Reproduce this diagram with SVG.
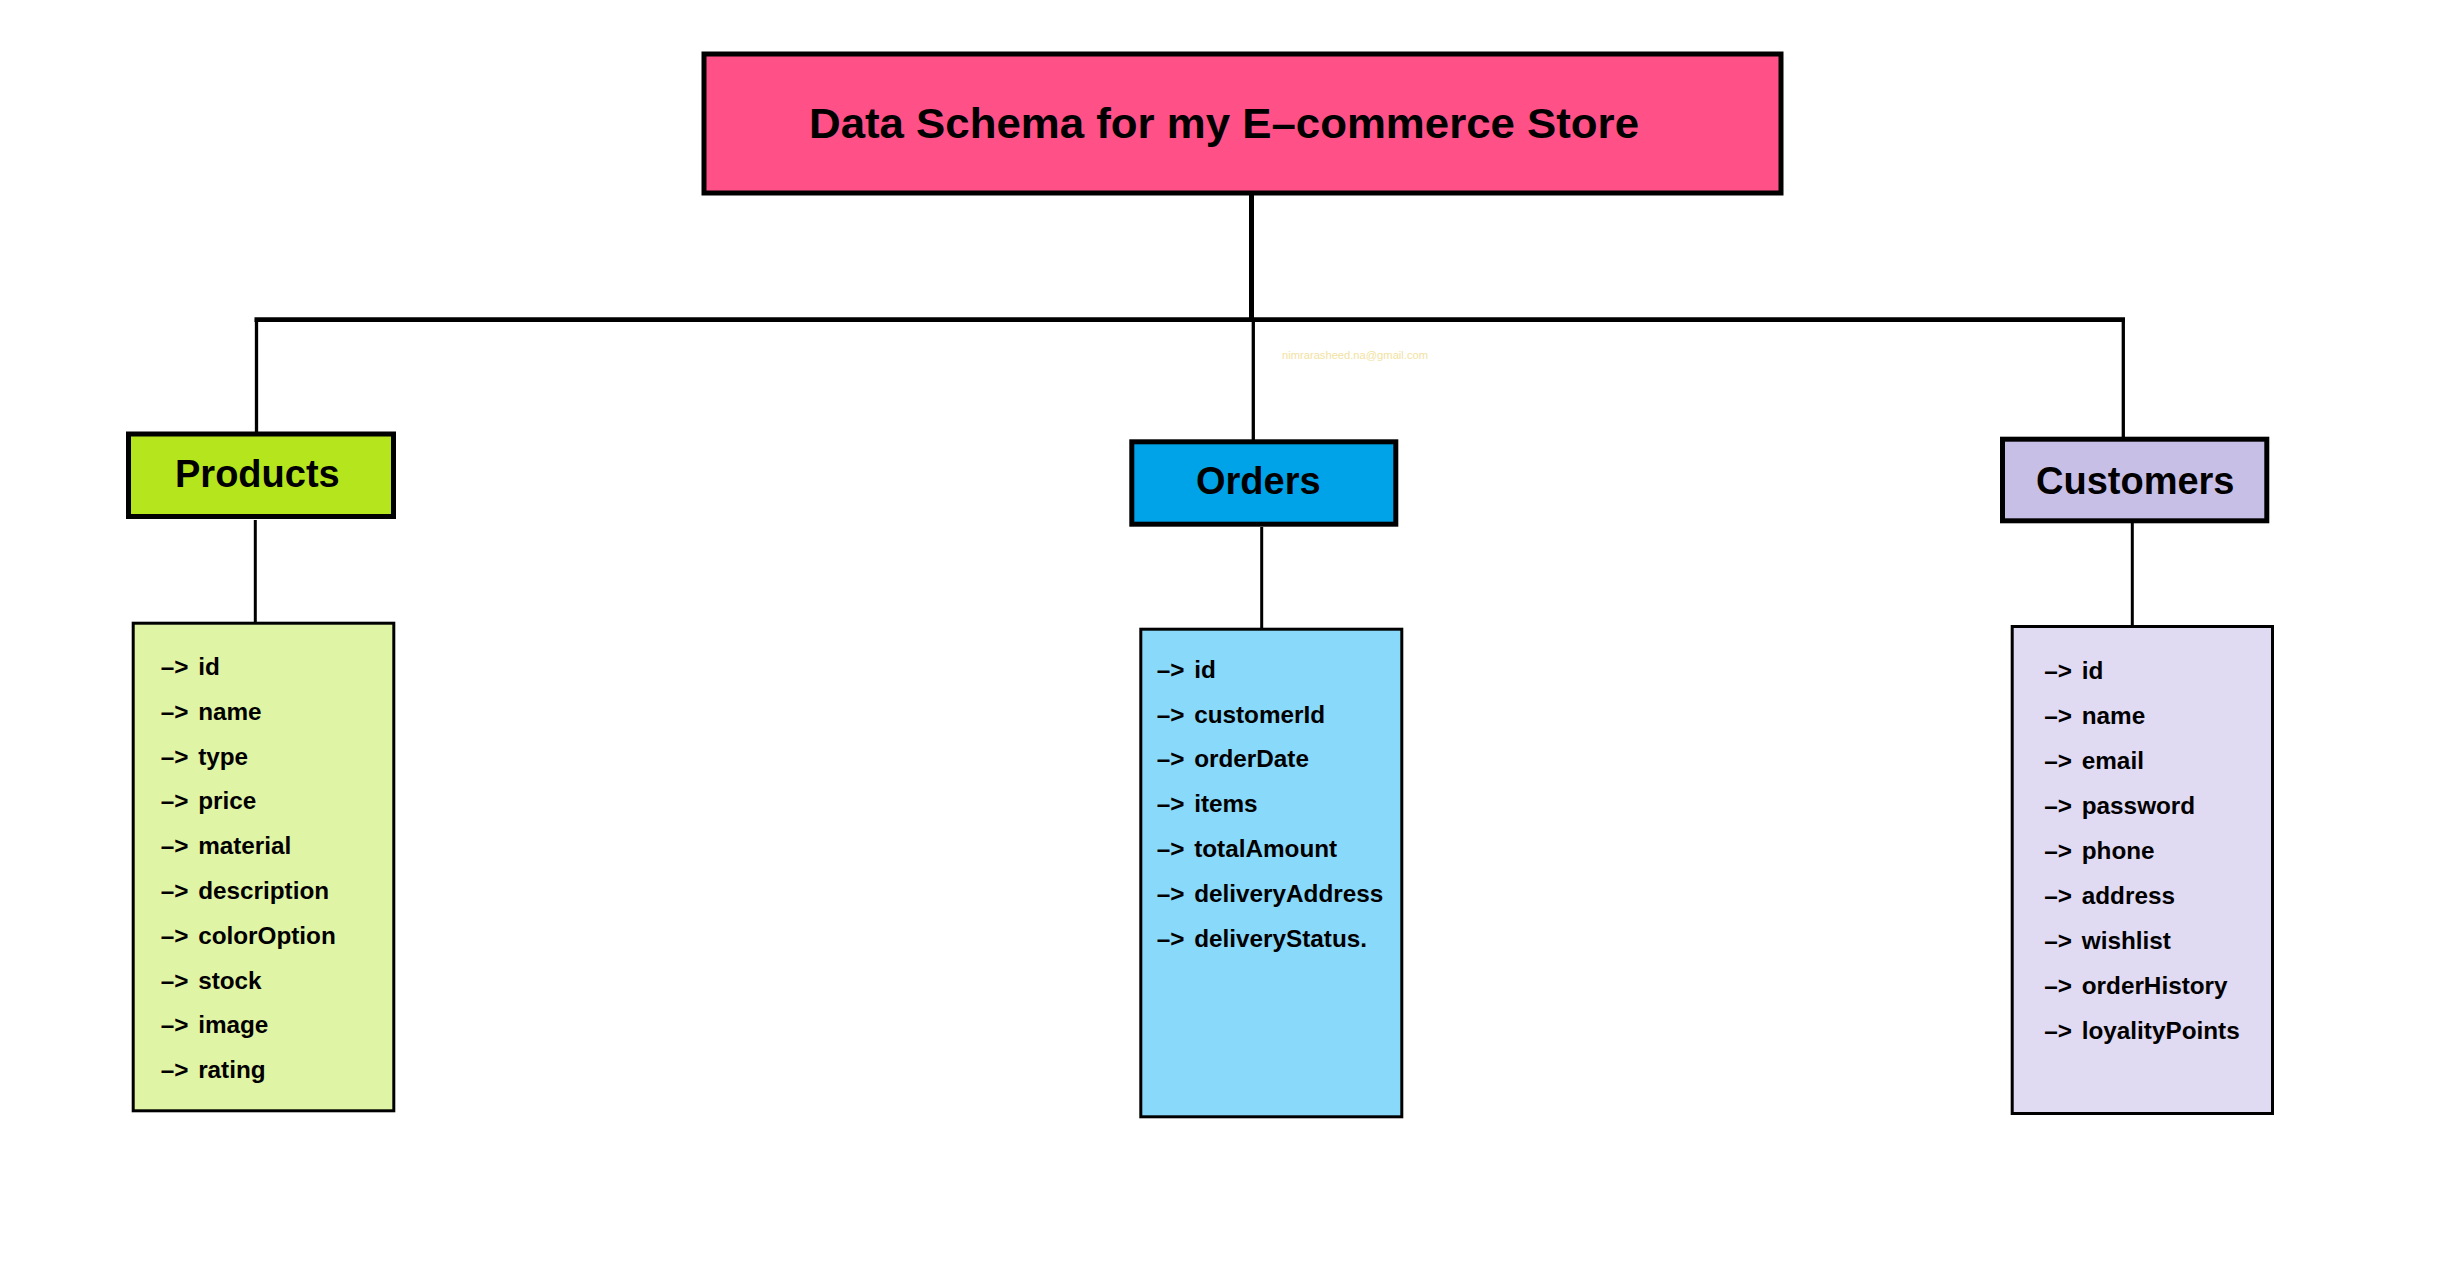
<svg xmlns="http://www.w3.org/2000/svg" width="2464" height="1284" viewBox="0 0 2464 1284">
<style>
.hdr{stroke:#000;stroke-width:5}
.lst{stroke:#000;stroke-width:3}
.t{font-family:"Liberation Sans",Arial,sans-serif;font-weight:bold;fill:#000}
.h{font-size:38px}
.f{font-size:24.3px;word-spacing:3px}
.c{stroke:#000;fill:none}
</style>
<rect width="2464" height="1284" fill="#fff"/>
<g id="connectors">
<line class="c" x1="1251.5" y1="195" x2="1251.5" y2="319.5" stroke-width="5"/>
<line class="c" x1="254.5" y1="319.7" x2="2125" y2="319.7" stroke-width="4.7"/>
<line class="c" x1="256.5" y1="319" x2="256.5" y2="432" stroke-width="3.3"/>
<line class="c" x1="1253.3" y1="319" x2="1253.3" y2="440" stroke-width="3.3"/>
<line class="c" x1="2123.3" y1="319" x2="2123.3" y2="437" stroke-width="3.3"/>
<line class="c" x1="255.3" y1="520" x2="255.3" y2="625" stroke-width="3"/>
<line class="c" x1="1261.7" y1="527" x2="1261.7" y2="631" stroke-width="3"/>
<line class="c" x1="2132.3" y1="523" x2="2132.3" y2="628" stroke-width="3"/>
</g>
<g id="title">
<rect class="hdr" x="704" y="54" width="1077" height="139" fill="#FF5088"/>
<text class="t" x="809" y="138" font-size="43" textLength="830" lengthAdjust="spacingAndGlyphs">Data Schema for my E–commerce Store</text>
</g>
<text x="1282" y="358.5" font-family="'Liberation Sans',Arial,sans-serif" font-size="10" fill="#F2E2A0" textLength="146" lengthAdjust="spacingAndGlyphs">nimrarasheed.na@gmail.com</text>
<g id="products">
<rect class="hdr" x="128.5" y="434" width="265" height="82.5" fill="#B5E61D"/>
<text class="t h" x="175" y="486.7">Products</text>
</g>
<g id="products-fields">
<rect class="lst" x="133.2" y="623.2" width="260.6" height="487.6" fill="#E0F4A6"/>
<g class="t f">
<text x="160.7" y="675">–&gt; id</text>
<text x="160.7" y="719.8">–&gt; name</text>
<text x="160.7" y="764.6">–&gt; type</text>
<text x="160.7" y="809.4">–&gt; price</text>
<text x="160.7" y="854.2">–&gt; material</text>
<text x="160.7" y="899">–&gt; description</text>
<text x="160.7" y="943.8">–&gt; colorOption</text>
<text x="160.7" y="988.6">–&gt; stock</text>
<text x="160.7" y="1033.4">–&gt; image</text>
<text x="160.7" y="1078.2">–&gt; rating</text>
</g>
</g>
<g id="orders">
<rect class="hdr" x="1131.8" y="441.8" width="264" height="82.4" fill="#00A2E8"/>
<text class="t h" x="1196" y="494.3">Orders</text>
</g>
<g id="orders-fields">
<rect class="lst" x="1140.8" y="629.2" width="261" height="487.6" fill="#89D9FB"/>
<g class="t f">
<text x="1156.7" y="677.7">–&gt; id</text>
<text x="1156.7" y="722.5">–&gt; customerId</text>
<text x="1156.7" y="767.3">–&gt; orderDate</text>
<text x="1156.7" y="812.1">–&gt; items</text>
<text x="1156.7" y="856.9">–&gt; totalAmount</text>
<text x="1156.7" y="901.7">–&gt; deliveryAddress</text>
<text x="1156.7" y="946.5">–&gt; deliveryStatus.</text>
</g>
</g>
<g id="customers">
<rect class="hdr" x="2002.5" y="439.2" width="264.3" height="81.6" fill="#C8BFE7"/>
<text class="t h" x="2036" y="494.3">Customers</text>
</g>
<g id="customers-fields">
<rect class="lst" x="2012.2" y="626.5" width="260.3" height="487" fill="#E0DAF2"/>
<g class="t f">
<text x="2044.3" y="679.3">–&gt; id</text>
<text x="2044.3" y="724.3">–&gt; name</text>
<text x="2044.3" y="769.3">–&gt; email</text>
<text x="2044.3" y="814.3">–&gt; password</text>
<text x="2044.3" y="859.3">–&gt; phone</text>
<text x="2044.3" y="904.3">–&gt; address</text>
<text x="2044.3" y="949.3">–&gt; wishlist</text>
<text x="2044.3" y="994.3">–&gt; orderHistory</text>
<text x="2044.3" y="1039.3">–&gt; loyalityPoints</text>
</g>
</g>
</svg>
